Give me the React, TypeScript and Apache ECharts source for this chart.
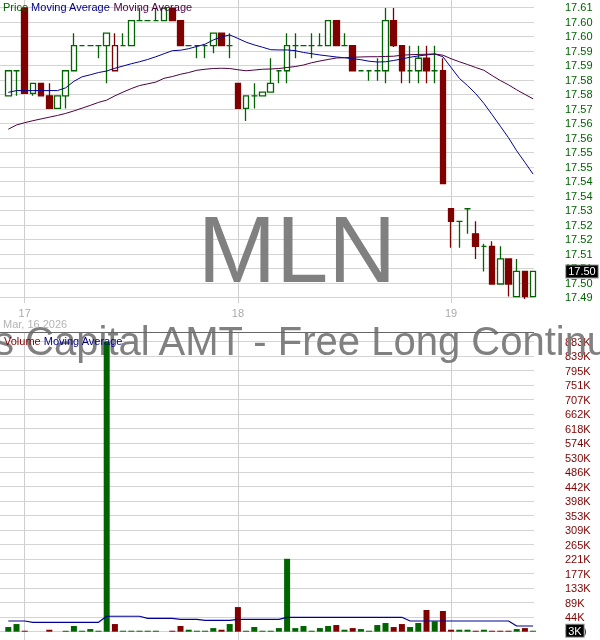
import React, { useEffect, useRef } from 'react';
import * as echarts from 'echarts';

// 15 minute bars, Mar 16 (last two) .. Mar 19
const sessionTimes = [
    '09:30', '09:45', '10:00', '10:15', '10:30', '10:45', '11:00', '11:15', '11:30', '11:45', '12:00', '12:15', '12:30',
    '12:45', '13:00', '13:15', '13:30', '13:45', '14:00', '14:15', '14:30', '14:45', '15:00', '15:15', '15:30', '15:45',
];
const firstDayTail = ['15:30', '15:45'];
const lastDayBarCount = 11;

const opens = [
    17.575, 17.585, 17.61, 17.576, 17.58, 17.575, 17.57, 17.575, 17.585, 17.595,
    17.595, 17.595, 17.595, 17.585, 17.595, 17.595, 17.605, 17.605, 17.605, 17.605,
    17.61, 17.605, 17.595, 17.595, 17.595, 17.595, 17.6, 17.595, 17.58, 17.57,
    17.575, 17.575, 17.5765, 17.585, 17.585, 17.595, 17.595, 17.595, 17.595, 17.595,
    17.605, 17.595, 17.595, 17.585, 17.585, 17.585, 17.585, 17.605, 17.595, 17.585,
    17.585, 17.59, 17.585, 17.585, 17.53, 17.525, 17.53, 17.52, 17.515, 17.515,
    17.5, 17.51, 17.495, 17.505, 17.495,
];
const closes = [
    17.585, 17.585, 17.576, 17.58, 17.575, 17.57, 17.575, 17.585, 17.595, 17.595,
    17.595, 17.595, 17.6, 17.595, 17.595, 17.605, 17.605, 17.605, 17.605, 17.61,
    17.605, 17.595, 17.595, 17.595, 17.595, 17.6, 17.595, 17.595, 17.57, 17.575,
    17.575, 17.5765, 17.58, 17.585, 17.595, 17.595, 17.595, 17.595, 17.595, 17.605,
    17.595, 17.595, 17.585, 17.585, 17.585, 17.585, 17.605, 17.595, 17.585, 17.585,
    17.59, 17.585, 17.585, 17.54, 17.525, 17.525, 17.53, 17.515, 17.515, 17.5,
    17.51, 17.5, 17.505, 17.495, 17.505,
];
const lows = [
    17.575, 17.575, 17.576, 17.575, 17.575, 17.57, 17.57, 17.57, 17.585, 17.595,
    17.595, 17.59, 17.58, 17.585, 17.595, 17.595, 17.605, 17.605, 17.605, 17.605,
    17.605, 17.595, 17.595, 17.59, 17.59, 17.592, 17.595, 17.59, 17.57, 17.565,
    17.57, 17.575, 17.5765, 17.58, 17.58, 17.59, 17.595, 17.59, 17.595, 17.595,
    17.595, 17.595, 17.585, 17.585, 17.581, 17.581, 17.58, 17.5945, 17.58, 17.58,
    17.58, 17.58, 17.58, 17.54, 17.5145, 17.5145, 17.52, 17.51, 17.505, 17.5,
    17.5, 17.495, 17.495, 17.494, 17.495,
];
const highs = [
    17.585, 17.585, 17.61, 17.58, 17.58, 17.58, 17.575, 17.585, 17.6, 17.595,
    17.595, 17.595, 17.6, 17.6, 17.6, 17.605, 17.61, 17.605, 17.61, 17.61,
    17.61, 17.605, 17.595, 17.595, 17.595, 17.6, 17.6, 17.6, 17.58, 17.575,
    17.58, 17.5765, 17.59, 17.585, 17.6, 17.6, 17.595, 17.6, 17.6, 17.605,
    17.605, 17.6, 17.595, 17.585, 17.585, 17.59, 17.61, 17.61, 17.595, 17.595,
    17.595, 17.595, 17.595, 17.59, 17.53, 17.525, 17.53, 17.525, 17.516, 17.517,
    17.515, 17.51, 17.51, 17.505, 17.505,
];
// up bars drawn in red (close above open, below previous close)
const redHollowBars = [13];

const maFast = [
    17.5764, 17.5771, 17.5771, 17.5771, 17.5771, 17.5771, 17.5771, 17.5782, 17.5808, 17.5826,
    17.5834, 17.5843, 17.5849, 17.586, 17.5869, 17.5878, 17.5886, 17.5895, 17.5906, 17.5918,
    17.593, 17.5932, 17.5938, 17.5947, 17.5956, 17.5973, 17.5985, 17.5993, 17.5979, 17.5964,
    17.5953, 17.5944, 17.5934, 17.5933, 17.5933, 17.593, 17.5923, 17.5918, 17.5913, 17.5909,
    17.5905, 17.5902, 17.5898, 17.5894, 17.5888, 17.5885, 17.5886, 17.5891, 17.5897, 17.5904,
    17.5909, 17.5913, 17.5917, 17.5906, 17.5863, 17.582, 17.5791, 17.5759, 17.572, 17.5675,
    17.5629, 17.5583, 17.5531, 17.5485, 17.5438,
];
const maSlow = [
    17.5617, 17.5634, 17.5643, 17.5651, 17.5658, 17.5665, 17.5672, 17.568, 17.569, 17.5701,
    17.5712, 17.5724, 17.5733, 17.575, 17.5765, 17.5779, 17.5791, 17.5798, 17.5805, 17.582,
    17.5827, 17.5836, 17.5843, 17.5852, 17.5856, 17.5859, 17.586, 17.5859, 17.5854, 17.585,
    17.5853, 17.5856, 17.5857, 17.5859, 17.5863, 17.5867, 17.5873, 17.5882, 17.5889, 17.5895,
    17.5901, 17.5902, 17.5904, 17.5905, 17.5906, 17.5906, 17.5907, 17.5908, 17.5912, 17.5914,
    17.5915, 17.5916, 17.5917, 17.5912, 17.5898, 17.5886, 17.5875, 17.5863, 17.5852, 17.5831,
    17.5811, 17.5794, 17.5774, 17.5756, 17.5738,
];

const volumes = [
    14200, 23300, 3000, 0, 0, 6000, 0, 3000, 17300, 3000,
    8000, 3000, 883000, 23300, 3000, 3000, 3000, 3000, 3000, 0,
    3000, 17300, 6000, 3000, 3000, 11000, 6000, 23300, 75000, 3000,
    14200, 3000, 3000, 11000, 222000, 11000, 17300, 3000, 11000, 17300,
    20300, 6000, 11000, 8000, 3000, 20300, 26400, 14200, 23300, 14200,
    26400, 66000, 31500, 63000, 6000, 6000, 6000, 3000, 6000, 3000,
    3000, 3000, 8000, 11000, 3000,
];
const volumeSide = [
    'u', 'u', 'd', 'u', 'u', 'd', 'u', 'u', 'u', 'u',
    'u', 'u', 'u', 'd', 'u', 'u', 'u', 'u', 'u', 'u',
    'd', 'd', 'u', 'u', 'u', 'u', 'd', 'u', 'd', 'u',
    'u', 'u', 'u', 'u', 'u', 'u', 'u', 'u', 'u', 'u',
    'd', 'u', 'd', 'u', 'u', 'u', 'u', 'd', 'd', 'u',
    'u', 'd', 'u', 'd', 'd', 'u', 'u', 'd', 'u', 'd',
    'd', 'd', 'u', 'd', 'u',
];
const volumeMA = [
    32600, 32600, 32600, 28600, 28600, 28600, 28600, 28600, 28600, 28600,
    28600, 28600, 47000, 47000, 47000, 47000, 47000, 40800, 40800, 40800,
    40800, 37700, 37700, 37700, 34700, 34700, 34700, 34700, 37700, 37700,
    37700, 37700, 37700, 37700, 43800, 43800, 43800, 43800, 43800, 43800,
    43800, 43800, 43800, 43800, 43800, 43800, 43800, 43800, 43800, 32600,
    32600, 32600, 32600, 32600, 32600, 32600, 32600, 32600, 32600, 32600,
    32600, 32600, 17400, 17400, 17400,
];

// axis ticks: price from the top gridline down, volume from zero up
const priceTickLabels = [
    '17.61', '17.60', '17.60', '17.59', '17.59', '17.58', '17.58', '17.57', '17.56', '17.56', '17.55',
    '17.55', '17.54', '17.54', '17.53', '17.52', '17.52', '17.51', '17.51', '17.50', '17.49',
];
const priceTop = 17.6103;
const priceStep = 0.00578;
const volumeTickLabels = [
    '0.00', '44K', '89K', '133K', '177K', '221K', '265K', '309K', '353K', '398K', '442K',
    '486K', '530K', '574K', '618K', '662K', '707K', '751K', '795K', '839K', '883K',
];
const volumeStep = 44150;

const categories = [
    ...firstDayTail.map((t) => '16 ' + t),
    ...sessionTimes.map((t) => '17 ' + t),
    ...sessionTimes.map((t) => '18 ' + t),
    ...sessionTimes.slice(0, lastDayBarCount).map((t) => '19 ' + t),
];

const GREEN = '#006400';
const RED = '#800000';
const FONT = '"Liberation Sans", Arial, sans-serif';

const PLOT_W = 534;
const BARS_LEFT = 4.2;
const BARS_W = 533;
const ROW = 14.5;
const ROWS = 20;
const PRICE_PANEL_H = 303;
const PRICE_GRID_TOP = 7.3;
const VOL_PANEL_TOP = 333;
const VOL_PANEL_H = 307;
const VOL_GRID_TOP = 341.7;

const App: React.FC = () => {
    const chartRef = useRef<HTMLDivElement>(null);

    useEffect(() => {
        if (!chartRef.current) return;
        const chart = echarts.init(chartRef.current, undefined, { renderer: 'svg' });

        const isDayStart = (i: number) => categories[i].endsWith('09:30');
        const dayOf = (i: number) => categories[i].split(' ')[0];

        const priceMax = priceTop + (PRICE_GRID_TOP / ROW) * priceStep;
        const priceMin = priceTop - ((PRICE_PANEL_H - PRICE_GRID_TOP) / ROW) * priceStep;
        const volMax = ROWS * volumeStep + ((VOL_GRID_TOP - VOL_PANEL_TOP) / ROW) * volumeStep;
        const volMin = -((VOL_PANEL_TOP + VOL_PANEL_H - (VOL_GRID_TOP + ROWS * ROW)) / ROW) * volumeStep;

        const candleData = opens.map((o, i) => {
            const item: any = { value: [o, closes[i], lows[i], highs[i]] };
            if (redHollowBars.includes(i)) item.itemStyle = { color: '#fff', borderColor: RED };
            return item;
        });
        const volumeData = volumes.map((v, i) => ({
            value: v,
            itemStyle: { color: volumeSide[i] === 'u' ? GREEN : RED },
        }));

        const vSplit = {
            show: true,
            alignWithLabel: true,
            interval: (i: number) => isDayStart(i),
            lineStyle: { color: '#cfcfcf', width: 1 },
        };
        const hSplit = { show: true, lineStyle: { color: '#d4d4d4', width: 1 } };

        const boxLabel = (fmt: (v: number) => string) => ({
            show: true,
            position: 'end',
            distance: 29,
            formatter: (p: any) => fmt(p.value),
            color: '#fff',
            backgroundColor: '#000',
            borderColor: '#999',
            borderWidth: 1,
            padding: [1, 2, 0, 2],
            fontSize: 11,
            fontFamily: FONT,
        });

        const option = {
            animation: false,
            textStyle: { fontFamily: FONT },
            grid: [
                { left: BARS_LEFT, top: 0, width: BARS_W, height: PRICE_PANEL_H },
                { left: 0, top: PRICE_GRID_TOP, width: PLOT_W, height: ROWS * ROW },
                { left: BARS_LEFT, top: VOL_PANEL_TOP, width: BARS_W, height: VOL_PANEL_H },
                { left: 0, top: VOL_GRID_TOP, width: PLOT_W, height: ROWS * ROW },
            ],
            xAxis: [
                {
                    type: 'category',
                    gridIndex: 0,
                    data: categories,
                    boundaryGap: true,
                    axisLine: { show: false },
                    axisTick: { show: false },
                    axisLabel: {
                        interval: (i: number) => isDayStart(i),
                        formatter: (_v: string, i: number) => dayOf(i),
                        color: '#aaaaaa',
                        fontSize: 11,
                        margin: 4,
                    },
                    splitLine: vSplit,
                },
                { type: 'value', gridIndex: 1, show: false },
                {
                    type: 'category',
                    gridIndex: 2,
                    data: categories,
                    boundaryGap: true,
                    axisLine: { show: false },
                    axisTick: { show: false },
                    axisLabel: { show: false },
                    splitLine: vSplit,
                },
                { type: 'value', gridIndex: 3, show: false },
            ],
            yAxis: [
                { type: 'value', gridIndex: 0, min: priceMin, max: priceMax, show: false },
                {
                    type: 'value',
                    gridIndex: 1,
                    min: 0,
                    max: ROWS,
                    interval: 1,
                    inverse: true,
                    position: 'right',
                    axisLine: { show: false },
                    axisTick: { show: false },
                    axisLabel: {
                        formatter: (v: number) => priceTickLabels[Math.round(v)],
                        color: GREEN,
                        fontSize: 11,
                        margin: 31,
                    },
                    splitLine: hSplit,
                },
                { type: 'value', gridIndex: 2, min: volMin, max: volMax, show: false },
                {
                    type: 'value',
                    gridIndex: 3,
                    min: 0,
                    max: ROWS * volumeStep,
                    interval: volumeStep,
                    position: 'right',
                    axisLine: { show: false },
                    axisTick: { show: false },
                    axisLabel: {
                        formatter: (v: number) => volumeTickLabels[Math.round(v / volumeStep)],
                        color: RED,
                        fontSize: 11,
                        margin: 31,
                    },
                    splitLine: hSplit,
                },
            ],
            series: [
                {
                    type: 'candlestick',
                    xAxisIndex: 0,
                    yAxisIndex: 0,
                    data: candleData,
                    barWidth: 6,
                    itemStyle: {
                        color: '#ffffff',
                        color0: RED,
                        borderColor: GREEN,
                        borderColor0: RED,
                        borderColorDoji: GREEN,
                        borderWidth: 1.3,
                    },
                    markLine: {
                        silent: true,
                        precision: 4,
                        symbol: ['none', 'none'],
                        lineStyle: { color: 'rgba(0,0,0,0)', width: 0 },
                        label: boxLabel((v) => v.toFixed(2)),
                        data: [{ yAxis: closes[closes.length - 1] }],
                    },
                },
                {
                    type: 'line',
                    xAxisIndex: 0,
                    yAxisIndex: 0,
                    data: maFast,
                    symbol: 'none',
                    lineStyle: { color: '#000099', width: 1 },
                },
                {
                    type: 'line',
                    xAxisIndex: 0,
                    yAxisIndex: 0,
                    data: maSlow,
                    symbol: 'none',
                    lineStyle: { color: '#4b0040', width: 1 },
                },
                {
                    type: 'bar',
                    xAxisIndex: 2,
                    yAxisIndex: 2,
                    data: volumeData,
                    barWidth: 6,
                    markLine: {
                        silent: true,
                        precision: 0,
                        symbol: ['none', 'none'],
                        lineStyle: { color: 'rgba(0,0,0,0)', width: 0 },
                        label: boxLabel((v) => Math.round(v / 1000) + 'K'),
                        data: [{ yAxis: volumes[volumes.length - 1] }],
                    },
                },
                {
                    type: 'line',
                    xAxisIndex: 2,
                    yAxisIndex: 2,
                    data: volumeMA,
                    symbol: 'none',
                    lineStyle: { color: '#000099', width: 1.2 },
                },
            ],
            graphic: [
                {
                    type: 'text',
                    z: 1,
                    x: 297,
                    y: 249.5,
                    silent: true,
                    style: {
                        text: 'MLN',
                        font: '94px ' + FONT,
                        fill: '#808080',
                        align: 'center',
                        verticalAlign: 'middle',
                        textAlign: 'center',
                        textVerticalAlign: 'middle',
                    },
                },
                {
                    type: 'text',
                    z: 1,
                    x: -6,
                    y: 341,
                    silent: true,
                    style: {
                        text: 's Capital AMT - Free Long Continuous',
                        font: '40px ' + FONT,
                        fill: '#808080',
                        align: 'left',
                        verticalAlign: 'middle',
                        textAlign: 'left',
                        textVerticalAlign: 'middle',
                    },
                },
                {
                    type: 'line',
                    z: 50,
                    silent: true,
                    shape: { x1: 0, y1: 332.5, x2: PLOT_W, y2: 332.5 },
                    style: { stroke: '#666666', lineWidth: 1 },
                },
                {
                    type: 'text',
                    z: 60,
                    x: 3,
                    y: 1,
                    silent: true,
                    style: {
                        text: '{p|Price} {f|Moving Average} {s|Moving Average}',
                        font: '11px ' + FONT,
                        rich: {
                            p: { fill: GREEN, color: GREEN, font: '11px ' + FONT },
                            f: { fill: '#000080', color: '#000080', font: '11px ' + FONT },
                            s: { fill: '#4b0040', color: '#4b0040', font: '11px ' + FONT },
                        },
                    },
                },
                {
                    type: 'text',
                    z: 60,
                    x: 4,
                    y: 335,
                    silent: true,
                    style: {
                        text: '{v|Volume} {f|Moving Average}',
                        font: '11px ' + FONT,
                        rich: {
                            v: { fill: RED, color: RED, font: '11px ' + FONT },
                            f: { fill: '#000080', color: '#000080', font: '11px ' + FONT },
                        },
                    },
                },
                {
                    type: 'text',
                    z: 60,
                    x: 3,
                    y: 318,
                    silent: true,
                    style: { text: 'Mar, 16 2026', font: '11px ' + FONT, fill: '#b4b4b4' },
                },
            ],
        };

        chart.setOption(option as any);

        return () => {
            chart.dispose();
        };
    }, []);

    return <div ref={chartRef} style={{ position: 'fixed', left: 0, top: 0, width: '600px', height: '640px' }} />;
};

export default App;
